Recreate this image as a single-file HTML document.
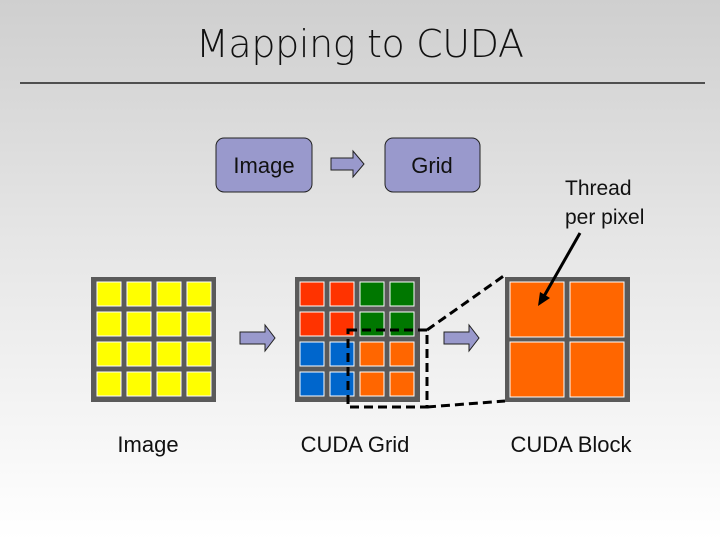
<!DOCTYPE html>
<html><head><style>
html,body{margin:0;padding:0}
body{width:720px;height:540px;overflow:hidden;background:linear-gradient(#cfcfcf 0%,#e6e6e6 45%,#ffffff 100%);font-family:"Liberation Sans",sans-serif;position:relative}
</style></head><body>
<svg width="720" height="540" style="position:absolute;left:0;top:0" font-family="Liberation Sans, sans-serif">
<text x="360" y="57" text-anchor="middle" font-size="38" fill="#111" font-family="DejaVu Sans, sans-serif" font-weight="300" textLength="328">Mapping to CUDA</text>
<line x1="20" y1="83" x2="705" y2="83" stroke="#222" stroke-width="1.5"/>
<rect x="216" y="138" width="96" height="54" rx="8" fill="#9999cc" stroke="#222" stroke-width="1"/>
<text x="264" y="173" text-anchor="middle" font-size="22" fill="#111">Image</text>
<rect x="385" y="138" width="95" height="54" rx="8" fill="#9999cc" stroke="#222" stroke-width="1"/>
<text x="432" y="173" text-anchor="middle" font-size="22" fill="#111">Grid</text>
<path d="M331,158 H353 V151 L364,164 L353,177 V170 H331 Z" fill="#9999cc" stroke="#222" stroke-width="1"/>
<text x="565" y="195" font-size="21" fill="#111">Thread</text>
<text x="565" y="224" font-size="21" fill="#111">per pixel</text>
<g id="cells"></g>
<!-- yellow grid -->
<rect x="91" y="277" width="125" height="125" fill="#5a5a5a"/>
<g fill="#ffff00" stroke="#fff" stroke-width="1">
<rect x="97" y="282" width="24" height="24"/><rect x="127" y="282" width="24" height="24"/><rect x="157" y="282" width="24" height="24"/><rect x="187" y="282" width="24" height="24"/>
<rect x="97" y="312" width="24" height="24"/><rect x="127" y="312" width="24" height="24"/><rect x="157" y="312" width="24" height="24"/><rect x="187" y="312" width="24" height="24"/>
<rect x="97" y="342" width="24" height="24"/><rect x="127" y="342" width="24" height="24"/><rect x="157" y="342" width="24" height="24"/><rect x="187" y="342" width="24" height="24"/>
<rect x="97" y="372" width="24" height="24"/><rect x="127" y="372" width="24" height="24"/><rect x="157" y="372" width="24" height="24"/><rect x="187" y="372" width="24" height="24"/>
</g>
<!-- CUDA grid -->
<rect x="295" y="277" width="125" height="125" fill="#5a5a5a"/>
<g stroke="#fff" stroke-width="1">
<rect x="300" y="282" width="24" height="24" fill="#ff3300"/><rect x="330" y="282" width="24" height="24" fill="#ff3300"/><rect x="360" y="282" width="24" height="24" fill="#007700"/><rect x="390" y="282" width="24" height="24" fill="#007700"/>
<rect x="300" y="312" width="24" height="24" fill="#ff3300"/><rect x="330" y="312" width="24" height="24" fill="#ff3300"/><rect x="360" y="312" width="24" height="24" fill="#007700"/><rect x="390" y="312" width="24" height="24" fill="#007700"/>
<rect x="300" y="342" width="24" height="24" fill="#0066cc"/><rect x="330" y="342" width="24" height="24" fill="#0066cc"/><rect x="360" y="342" width="24" height="24" fill="#ff6600"/><rect x="390" y="342" width="24" height="24" fill="#ff6600"/>
<rect x="300" y="372" width="24" height="24" fill="#0066cc"/><rect x="330" y="372" width="24" height="24" fill="#0066cc"/><rect x="360" y="372" width="24" height="24" fill="#ff6600"/><rect x="390" y="372" width="24" height="24" fill="#ff6600"/>
</g>
<!-- block -->
<rect x="505" y="277" width="125" height="125" fill="#5a5a5a"/>
<g fill="#ff6600" stroke="#fff" stroke-width="1">
<rect x="510" y="282" width="54" height="55"/><rect x="570" y="282" width="54" height="55"/>
<rect x="510" y="342" width="54" height="55"/><rect x="570" y="342" width="54" height="55"/>
</g>
<!-- arrows -->
<path d="M240,332 H265 V325 L275,338 L265,351 V344 H240 Z" fill="#9999cc" stroke="#222" stroke-width="1"/>
<path d="M444,332 H469 V325 L479,338 L469,351 V344 H444 Z" fill="#9999cc" stroke="#222" stroke-width="1"/>
<!-- dashed -->
<g fill="none" stroke="#000" stroke-width="3" stroke-dasharray="9,5">
<path d="M348,330 H427 V407 H348 Z"/>
<path d="M427,330 L505,275"/>
<path d="M427,407 L505,401"/>
</g>
<line x1="580" y1="233" x2="543" y2="298" stroke="#000" stroke-width="3"/>
<path d="M538,306 L540,292 L550,298 Z" fill="#000"/>
<text x="148" y="452" text-anchor="middle" font-size="22" fill="#111">Image</text>
<text x="355" y="452" text-anchor="middle" font-size="22" fill="#111">CUDA Grid</text>
<text x="571" y="452" text-anchor="middle" font-size="22" fill="#111">CUDA Block</text>
</svg>
</body></html>
